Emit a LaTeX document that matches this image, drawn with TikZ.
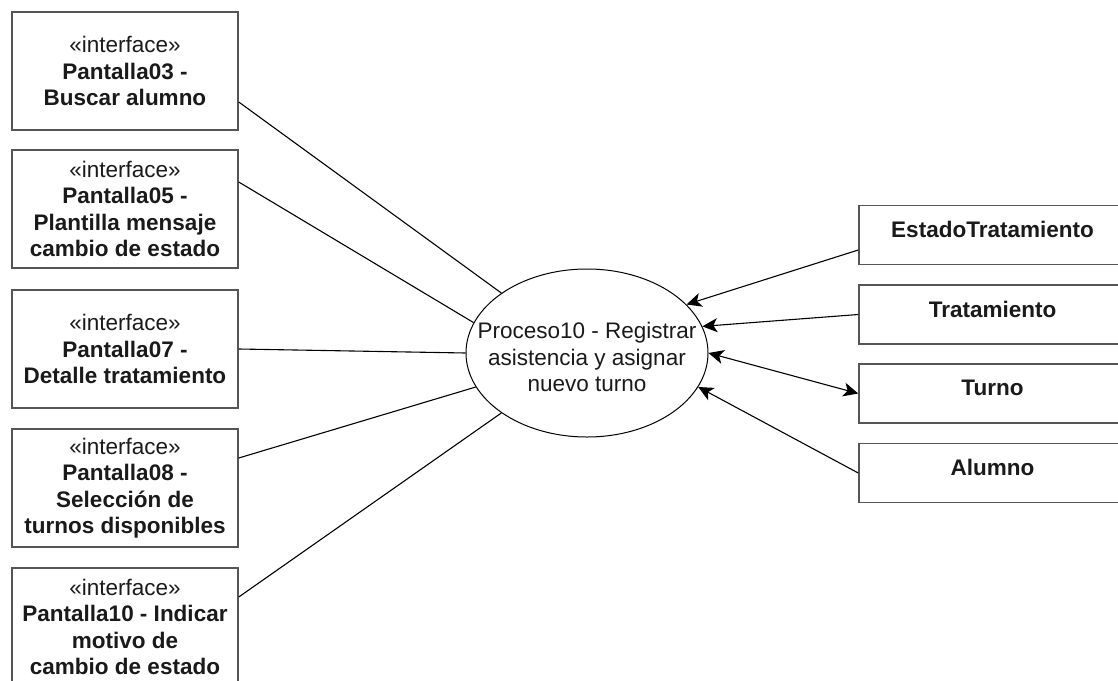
\documentclass[tikz,border=0pt]{standalone}
\usepackage{fontspec}
\setmainfont{Liberation Sans}
\usetikzlibrary{arrows.meta,shapes.geometric}

\definecolor{boxgray}{HTML}{555555}
\definecolor{txtgray}{HTML}{1A1A1A}
\newcommand\diagfont{\fontsize{22.5}{26.5}\selectfont}

\tikzset{
  ibox/.style={draw=boxgray, line width=1.5pt, fill=white, minimum width=226pt,
    minimum height=118pt, inner sep=0pt, align=center, font=\diagfont, text=txtgray},
  ebox/.style={draw=boxgray, line width=1.5pt, fill=white, minimum width=267pt,
    minimum height=59pt, inner sep=0pt},
  etext/.style={font=\diagfont\bfseries, text=txtgray, inner sep=0pt},
  procshape/.style={draw=black, ellipse, line width=1pt, minimum width=242pt,
    minimum height=168pt, inner sep=0pt},
  link/.style={draw=black, line width=1.1pt},
  tip/.style={Stealth[length=15pt,width=14pt,inset=4pt]},
  flow/.style={link, -{Stealth[length=15pt,width=14pt,inset=4pt]}},
  both/.style={link, {Stealth[length=15pt,width=14pt,inset=4pt]}-{Stealth[length=15pt,width=14pt,inset=4pt]}}
}

\begin{document}
\begin{tikzpicture}[x=1pt,y=-1pt]
  \useasboundingbox (0,0) rectangle (1118,680);

  % interface screens
  \node[ibox] (p03) at (125,71)  {«interface»\\\textbf{Pantalla03 -}\\\textbf{Buscar alumno}};
  \node[ibox] (p05) at (125,209) {«interface»\\\textbf{Pantalla05 -}\\\textbf{Plantilla mensaje}\\\textbf{cambio de estado}};
  \node[ibox] (p07) at (125,349) {«interface»\\\textbf{Pantalla07 -}\\\textbf{Detalle tratamiento}};
  \node[ibox] (p08) at (125,488) {«interface»\\\textbf{Pantalla08 -}\\\textbf{Selección de}\\\textbf{turnos disponibles}};
  \node[ibox] (p10) at (125,627) {«interface»\\\textbf{Pantalla10 - Indicar}\\\textbf{motivo de}\\\textbf{cambio de estado}};

  % entities
  \node[ebox] (estado) at (992.5,235)   {};
  \node[ebox] (trat)   at (992.5,314.5) {};
  \node[ebox] (turno)  at (992.5,393.5) {};
  \node[ebox] (alumno) at (992.5,473)   {};
  \node[etext] (estadotxt) at (992.5,229) {EstadoTratamiento};
  \node[etext] (trattxt)   at (992.5,309) {Tratamiento};
  \node[etext] (turnotxt)  at (992.5,388) {Turno};
  \node[etext] (alumnotxt) at (992.5,467) {Alumno};

  % process
  \node[procshape] (proc) at (587,353) {};
  \node[font=\diagfont, text=txtgray, align=center, inner sep=0pt] (proctxt) at (587,357)
    {Proceso10 - Registrar\\asistencia y asignar\\nuevo turno};

  % screen associations
  \draw[link] ([yshift=-31pt]p03.east) -- (proc.145);
  \draw[link] ([yshift=27pt]p05.east)  -- (proc.165);
  \draw[link] (p07.east)               -- (proc.180);
  \draw[link] ([yshift=30pt]p08.east)  -- (proc.197);
  \draw[link] ([yshift=30pt]p10.east)  -- (proc.215);

  % data flows
  \draw[flow] ([yshift=-15pt]estado.west) -- (proc.26);
  \draw[flow] (trat.west) -- (proc.13);
  \draw[both] (proc.0) -- (turno.west);
  \draw[flow] (alumno.west) -- (proc.343);
\end{tikzpicture}
\end{document}
